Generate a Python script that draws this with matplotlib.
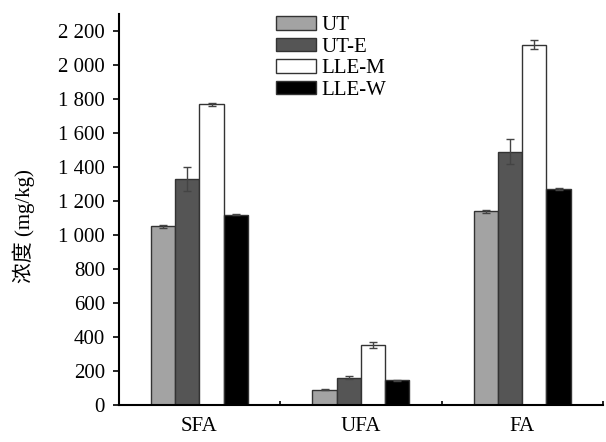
import numpy as np
import matplotlib.pyplot as plt
from matplotlib.ticker import FuncFormatter, FixedLocator

plt.rcParams['font.family'] = ['Liberation Serif', 'Noto Sans CJK SC']

groups = ["SFA", "UFA", "FA"]
series = ["UT", "UT-E", "LLE-M", "LLE-W"]
values = {
    "UT": [1050, 90, 1140],
    "UT-E": [1330, 160, 1490],
    "LLE-M": [1770, 350, 2120],
    "LLE-W": [1120, 145, 1270],
}
errors = {
    "UT": [8, 3, 8],
    "UT-E": [70, 8, 75],
    "LLE-M": [8, 18, 25],
    "LLE-W": [4, 3, 5],
}
colors = {"UT": "#a3a3a3", "UT-E": "#555555", "LLE-M": "#ffffff", "LLE-W": "#000000"}

fig = plt.figure(figsize=(6.06, 4.42), dpi=100)
ax = fig.add_axes([0.196, 0.084, 0.799, 0.884])

x = np.arange(len(groups))
w = 0.15
for i, s in enumerate(series):
    ax.bar(x + (i - 1.5) * w, values[s], w, color=colors[s], edgecolor="#333333",
           linewidth=1.0, label=s, yerr=errors[s], capsize=3,
           error_kw=dict(ecolor="#444444", elinewidth=1.0, capthick=1.0))

ax.set_xlim(-0.5, 2.5)
ax.set_ylim(0, 2300)
ax.set_yticks(np.arange(0, 2201, 200))
ax.yaxis.set_major_formatter(FuncFormatter(lambda v, p: f"{int(v):,}".replace(",", " ")))
ax.set_xticks(x)
ax.set_xticklabels(groups)
ax.xaxis.set_minor_locator(FixedLocator([0.5, 1.5, 2.5]))
ax.tick_params(axis="x", which="major", length=0, pad=9, labelsize=15)
ax.tick_params(axis="x", which="minor", length=3, direction="in", width=1.2)
ax.tick_params(axis="y", length=4, width=1.2, labelsize=15, pad=6)

for side in ["top", "right"]:
    ax.spines[side].set_visible(False)
for side in ["left", "bottom"]:
    ax.spines[side].set_linewidth(1.5)

ax.set_ylabel("浓度 (mg/kg)", fontsize=15)
ax.yaxis.set_label_coords(-0.174, 0.458)

ax.legend(loc="upper left", bbox_to_anchor=(0.32, 1.0), frameon=False,
          fontsize=15, handlelength=1.95, handleheight=0.62, handletextpad=0.25,
          labelspacing=0.12, borderaxespad=0, borderpad=0.1)

fig.savefig("out.png", dpi=100)
